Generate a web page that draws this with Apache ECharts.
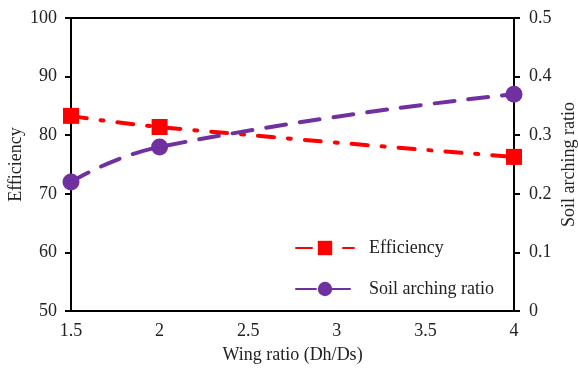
<!DOCTYPE html>
<html><head><meta charset="utf-8">
<script src="https://cdn.jsdelivr.net/npm/echarts@6/dist/echarts.min.js"></script>
<style>html,body{margin:0;padding:0;background:#fff}#c{width:578px;height:369px}</style>
</head><body><div id="c"></div>
<script>
const wingRatio = [1.5, 2, 4];
const efficiency = [83.3, 81.4, 76.3];
const soilArching = [0.22, 0.28, 0.37];
const xTicks = [1.5, 2, 2.5, 3, 3.5, 4];
const font = 'Liberation Serif';
const chart = echarts.init(document.getElementById('c'));
const axisCommon = {
  axisLine: {show: true, lineStyle: {color: '#000', width: 2}},
  axisTick: {show: true, length: 6, lineStyle: {color: '#000', width: 2}},
  axisLabel: {color: '#222', fontFamily: font, fontSize: 18, margin: 14},
  splitLine: {show: false},
  nameMoveOverlap: false,
  nameTextStyle: {color: '#222', fontFamily: font, fontSize: 18}
};
chart.setOption({
  animation: false,
  grid: {left: 71, right: 64, top: 18, bottom: 58, show: true, borderColor: '#000', borderWidth: 2,
         containLabel: false, outerBoundsMode: 'none'},
  legend: {
    left: 290, top: 234, orient: 'vertical', itemGap: 23, itemWidth: 58, itemHeight: 18,
    textStyle: {color: '#222', fontFamily: font, fontSize: 18, padding: [0, 0, 0, 10]},
    data: ['Efficiency', 'Soil arching ratio']
  },
  xAxis: Object.assign({}, axisCommon, {
    type: 'value', min: xTicks[0], max: xTicks[xTicks.length - 1], interval: 0.5,
    axisTick: {show: false},
    axisLabel: Object.assign({}, axisCommon.axisLabel, {margin: 11}),
    name: 'Wing ratio (Dh/Ds)', nameLocation: 'middle', nameGap: 35
  }),
  yAxis: [
    Object.assign({}, axisCommon, {
      type: 'value', min: 50, max: 100, interval: 10, position: 'left',
      name: 'Efficiency', nameLocation: 'middle', nameGap: 46
    }),
    Object.assign({}, axisCommon, {
      type: 'value', min: 0, max: 0.5, interval: 0.1, position: 'right',
      axisLabel: Object.assign({}, axisCommon.axisLabel, {margin: 15}),
      name: 'Soil arching ratio', nameLocation: 'middle', nameGap: 46, nameRotate: 90
    })
  ],
  series: [
    {
      name: 'Efficiency', type: 'line', yAxisIndex: 0, smooth: true,
      data: wingRatio.map((x, i) => [x, efficiency[i]]),
      symbol: 'rect', symbolSize: 16,
      itemStyle: {color: '#ff0000'},
      lineStyle: {color: '#ff0000', width: 4, type: [16, 14, 3, 14], cap: 'round'}
    },
    {
      name: 'Soil arching ratio', type: 'line', yAxisIndex: 1, smooth: true,
      data: wingRatio.map((x, i) => [x, soilArching[i]]),
      symbol: 'circle', symbolSize: 17,
      itemStyle: {color: '#7030a0'},
      lineStyle: {color: '#7030a0', width: 4, type: [20, 14], cap: 'round'}
    }
  ]
});
</script></body></html>
